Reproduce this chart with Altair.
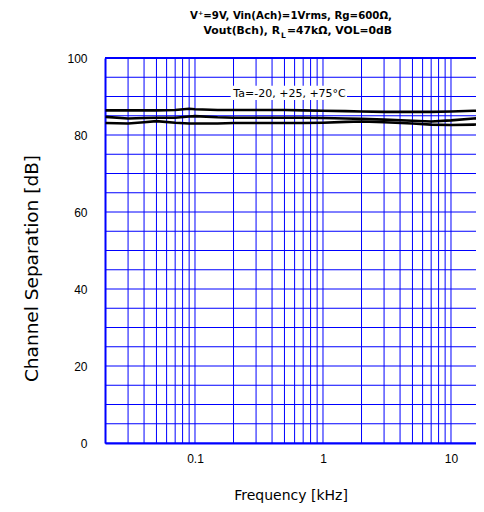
import altair as alt
import pandas as pd

freq = [0.02, 0.03, 0.04, 0.05, 0.07, 0.09, 0.1, 0.15, 0.2, 0.3, 0.5, 0.7, 1, 1.5, 2, 3, 5, 7, 10, 15, 20]
sep_top = [86.4, 86.4, 86.4, 86.4, 86.5, 86.8, 86.7, 86.5, 86.5, 86.5, 86.5, 86.4, 86.3, 86.2, 86.1, 86.0, 86.0, 86.0, 86.1, 86.3, 86.4]
sep_mid = [84.7, 84.3, 84.4, 84.5, 84.5, 84.8, 84.9, 84.6, 84.5, 84.5, 84.5, 84.5, 84.4, 84.3, 84.2, 84.0, 83.7, 83.5, 83.8, 84.3, 84.5]
sep_bot = [83.1, 83.0, 83.3, 83.6, 83.2, 83.0, 83.0, 83.0, 83.1, 83.1, 83.1, 83.1, 83.2, 83.4, 83.5, 83.3, 83.0, 82.7, 82.6, 82.7, 82.8]

x_grid = [0.02, 0.03, 0.04, 0.05, 0.06, 0.07, 0.08, 0.09,
          0.1, 0.2, 0.3, 0.4, 0.5, 0.6, 0.7, 0.8, 0.9,
          1, 2, 3, 4, 5, 6, 7, 8, 9, 10, 20]
x_labels = [0.1, 1, 10]
y_grid = list(range(0, 101, 5))
y_labels = [0, 20, 40, 60, 80, 100]

title1 = "V\u207a=9V, Vin(Ach)=1Vrms, Rg=600\u03a9,"
title2a = "Vout(Bch), R"
title2b = "L"
title2c = "=47k\u03a9, VOL=0dB"
note = "Ta=-20, +25, +75\u00b0C"

rows = []
for name, vals in [("top", sep_top), ("mid", sep_mid), ("bot", sep_bot)]:
    for f, v in zip(freq, vals):
        rows.append({"f": f, "v": v, "s": name})
df = pd.DataFrame(rows)

FONT = "Liberation Sans"
WFONT = "DejaVu Sans"
BLUE = "#0000ff"
XDOM = [0.01981, 15.68]

xscale = alt.Scale(type="log", domain=XDOM, nice=False)
yscale = alt.Scale(domain=[0, 100], nice=False)

x_axis = alt.Axis(values=x_labels, title="Frequency [kHz]", format="~g",
                  grid=False, ticks=False, domainColor=BLUE, domainWidth=2,
                  labelFont=FONT, labelFontSize=12, labelColor="black", labelPadding=10,
                  titleFont=WFONT, titleFontSize=14, titleFontWeight="normal", titleColor="black", titlePadding=24)
y_axis = alt.Axis(values=y_labels, title="Channel Separation [dB]",
                  grid=False, ticks=False, domainColor=BLUE, domainWidth=2,
                  labelFont=FONT, labelFontSize=12, labelColor="black", labelPadding=18,
                  titleFont=WFONT, titleFontSize=18.5, titleFontWeight="normal", titleColor="black", titlePadding=25,
                  titleY=210)

one = pd.DataFrame({"a": [0]})

vgrid = alt.Chart(pd.DataFrame({"g": x_grid})).mark_rule(color=BLUE, strokeWidth=1, clip=True).encode(
    x=alt.X("g:Q", scale=xscale, axis=x_axis))
hgrid = alt.Chart(pd.DataFrame({"h": y_grid})).mark_rule(color=BLUE, strokeWidth=1).encode(
    y=alt.Y("h:Q", scale=yscale, axis=y_axis))

lines = alt.Chart(df).mark_line(color="black", strokeWidth=2.6, clip=True).encode(
    x=alt.X("f:Q", scale=xscale),
    y=alt.Y("v:Q", scale=yscale),
    detail="s:N",
)

top_rule = alt.Chart(pd.DataFrame({"t": [100]})).mark_rule(color=BLUE, strokeWidth=2).encode(
    y=alt.Y("t:Q", scale=yscale))

box_df = pd.DataFrame({"x0": [0.19], "x1": [1.54], "y0": [89.1], "y1": [92.8]})
box = alt.Chart(box_df).mark_rect(fill="white", opacity=1).encode(
    x=alt.X("x0:Q", scale=xscale), x2="x1:Q",
    y=alt.Y("y0:Q", scale=yscale), y2="y1:Q",
)
lab_df = pd.DataFrame({"lx": [0.548], "ly": [90.7], "txt": [note]})
label = alt.Chart(lab_df).mark_text(font=WFONT, fontSize=11, color="black", align="center", baseline="middle").encode(
    x=alt.X("lx:Q", scale=xscale), y=alt.Y("ly:Q", scale=yscale), text="txt:N"
)

tstyle = dict(font=WFONT, fontSize=10.2, fontWeight="bold", color="black")
tstyle2 = dict(font=WFONT, fontSize=10.8, fontWeight="bold", color="black")
t1 = alt.Chart(one).mark_text(align="center", baseline="alphabetic", **tstyle).encode(
    x=alt.value(186), y=alt.value(-39), text=alt.value(title1))
t2a = alt.Chart(one).mark_text(align="right", baseline="alphabetic", **tstyle2).encode(
    x=alt.value(175), y=alt.value(-24), text=alt.value(title2a))
t2b = alt.Chart(one).mark_text(align="left", baseline="alphabetic", font=WFONT, fontSize=7.5, fontWeight="bold", color="black").encode(
    x=alt.value(176), y=alt.value(-20), text=alt.value(title2b))
t2c = alt.Chart(one).mark_text(align="left", baseline="alphabetic", **tstyle2).encode(
    x=alt.value(182), y=alt.value(-24), text=alt.value(title2c))

chart = alt.layer(hgrid, vgrid, box, lines, top_rule, label, t1, t2a, t2b, t2c).properties(
    width=371, height=385,
    autosize=alt.AutoSizeParams(type="none"),
    padding={"left": 97, "top": 50, "right": 0, "bottom": 61},
).configure_view(stroke=None).configure(background="white")

chart.save("out.html", embed_options={"renderer": "svg", "actions": False})
